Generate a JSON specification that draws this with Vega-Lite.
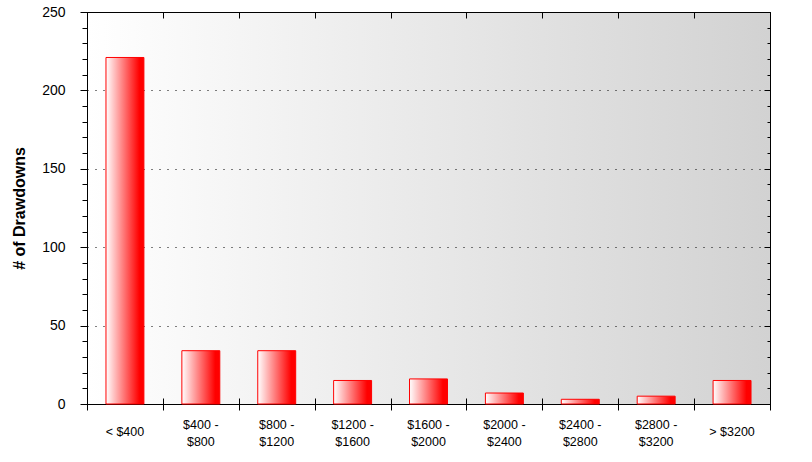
{
  "$schema": "https://vega.github.io/schema/vega-lite/v6.json",
  "width": 683,
  "height": 392,
  "autosize": {"type": "none"},
  "padding": {"left": 87, "top": 12, "right": 42, "bottom": 58},
  "background": "#ffffff",
  "view": {
    "fill": {"gradient": "linear", "x1": 0, "y1": 0, "x2": 1, "y2": 0,
      "stops": [{"offset": 0, "color": "#ffffff"}, {"offset": 1, "color": "#d2d2d2"}]},
    "stroke": "#000000",
    "strokeWidth": 1
  },
  "config": {
    "axis": {"labelFont": "Liberation Sans", "labelColor": "#000000", "tickColor": "#000000", "domainColor": "#000000", "tickWidth": 1, "domainWidth": 1}
  },
  "data": {
    "values": [
      {"range": "< $400", "count": 221},
      {"range": "$400 - $800", "count": 34},
      {"range": "$800 - $1200", "count": 34},
      {"range": "$1200 - $1600", "count": 15},
      {"range": "$1600 - $2000", "count": 16},
      {"range": "$2000 - $2400", "count": 7},
      {"range": "$2400 - $2800", "count": 3},
      {"range": "$2800 - $3200", "count": 5},
      {"range": "> $3200", "count": 15}
    ]
  },
  "resolve": {"scale": {"x": "independent"}, "axis": {"x": "independent", "y": "independent"}},
  "layer": [
    {
      "mark": {
        "type": "bar",
        "fill": {"gradient": "linear", "x1": 0, "y1": 0, "x2": 1, "y2": 0,
          "stops": [{"offset": 0, "color": "#ffffff"}, {"offset": 0.88, "color": "#ff0000"}, {"offset": 1, "color": "#ff0000"}]},
        "stroke": "#ff0000",
        "strokeWidth": 1
      },
      "encoding": {
        "x": {"field": "range", "type": "nominal", "sort": null,
          "scale": {"paddingInner": 0.5, "paddingOuter": 0.25},
          "axis": {"orient": "bottom", "title": null, "ticks": false, "tickSize": 0, "labelAngle": 0,
            "labelFontSize": 12.5, "labelPadding": 27.5, "labelLineHeight": 17,
            "labelBaseline": {"condition": {"test": "indexof(datum.label, ' - ') > 0", "value": "bottom"}, "value": "middle"},
            "labelExpr": "indexof(datum.label, ' - ') > 0 ? [split(datum.label, ' - ')[0] + ' -', split(datum.label, ' - ')[1]] : datum.label"}},
        "y": {"field": "count", "type": "quantitative",
          "scale": {"domain": [0, 250], "nice": false},
          "axis": {"orient": "left", "values": [0, 50, 100, 150, 200, 250], "tickSize": 7, "labelFontSize": 14, "labelPadding": 15,
            "grid": true, "gridColor": "#000000", "gridDash": [1, 7],
            "gridOpacity": {"condition": {"test": "datum.value > 0 && datum.value < 250", "value": 1}, "value": 0},
            "title": "# of Drawdowns", "titleFont": "Liberation Sans", "titleFontSize": 16, "titleFontWeight": "bold",
            "titleColor": "#000000", "titleX": -60, "titleY": 196}}
      }
    },
    {
      "mark": {"type": "bar", "opacity": 0},
      "encoding": {
        "x": {"field": "range", "type": "nominal", "sort": null,
          "scale": {"paddingInner": 0, "paddingOuter": 0},
          "axis": {"orient": "bottom", "title": null, "tickBand": "extent", "tickSize": 6, "labels": false, "domain": false}},
        "y": {"field": "count", "type": "quantitative",
          "axis": {"orient": "left", "values": [0, 10, 20, 30, 40, 50, 60, 70, 80, 90, 100, 110, 120, 130, 140, 150, 160, 170, 180, 190, 200, 210, 220, 230, 240, 250],
            "tickSize": 5, "labels": false, "domain": false, "grid": false, "title": null}}
      }
    },
    {
      "mark": {"type": "bar", "opacity": 0},
      "encoding": {
        "x": {"field": "range", "type": "nominal", "sort": null,
          "scale": {"paddingInner": 0, "paddingOuter": 0},
          "axis": {"orient": "bottom", "title": null, "tickBand": "extent", "tickSize": -6, "labels": false, "domain": false}},
        "y": {"field": "count", "type": "quantitative",
          "axis": {"orient": "right", "values": [0, 10, 20, 30, 40, 50, 60, 70, 80, 90, 100, 110, 120, 130, 140, 150, 160, 170, 180, 190, 200, 210, 220, 230, 240, 250],
            "tickSize": -3, "labels": false, "domain": false, "grid": false, "title": null}}
      }
    },
    {
      "mark": {"type": "bar", "opacity": 0},
      "encoding": {
        "x": {"field": "range", "type": "nominal", "sort": null,
          "scale": {"paddingInner": 0, "paddingOuter": 0},
          "axis": {"orient": "top", "title": null, "tickBand": "extent", "tickSize": -6, "labels": false, "domain": false}},
        "y": {"field": "count", "type": "quantitative",
          "axis": {"orient": "right", "values": [0, 50, 100, 150, 200, 250],
            "tickSize": -6, "labels": false, "domain": false, "grid": false, "title": null}}
      }
    }
  ]
}
